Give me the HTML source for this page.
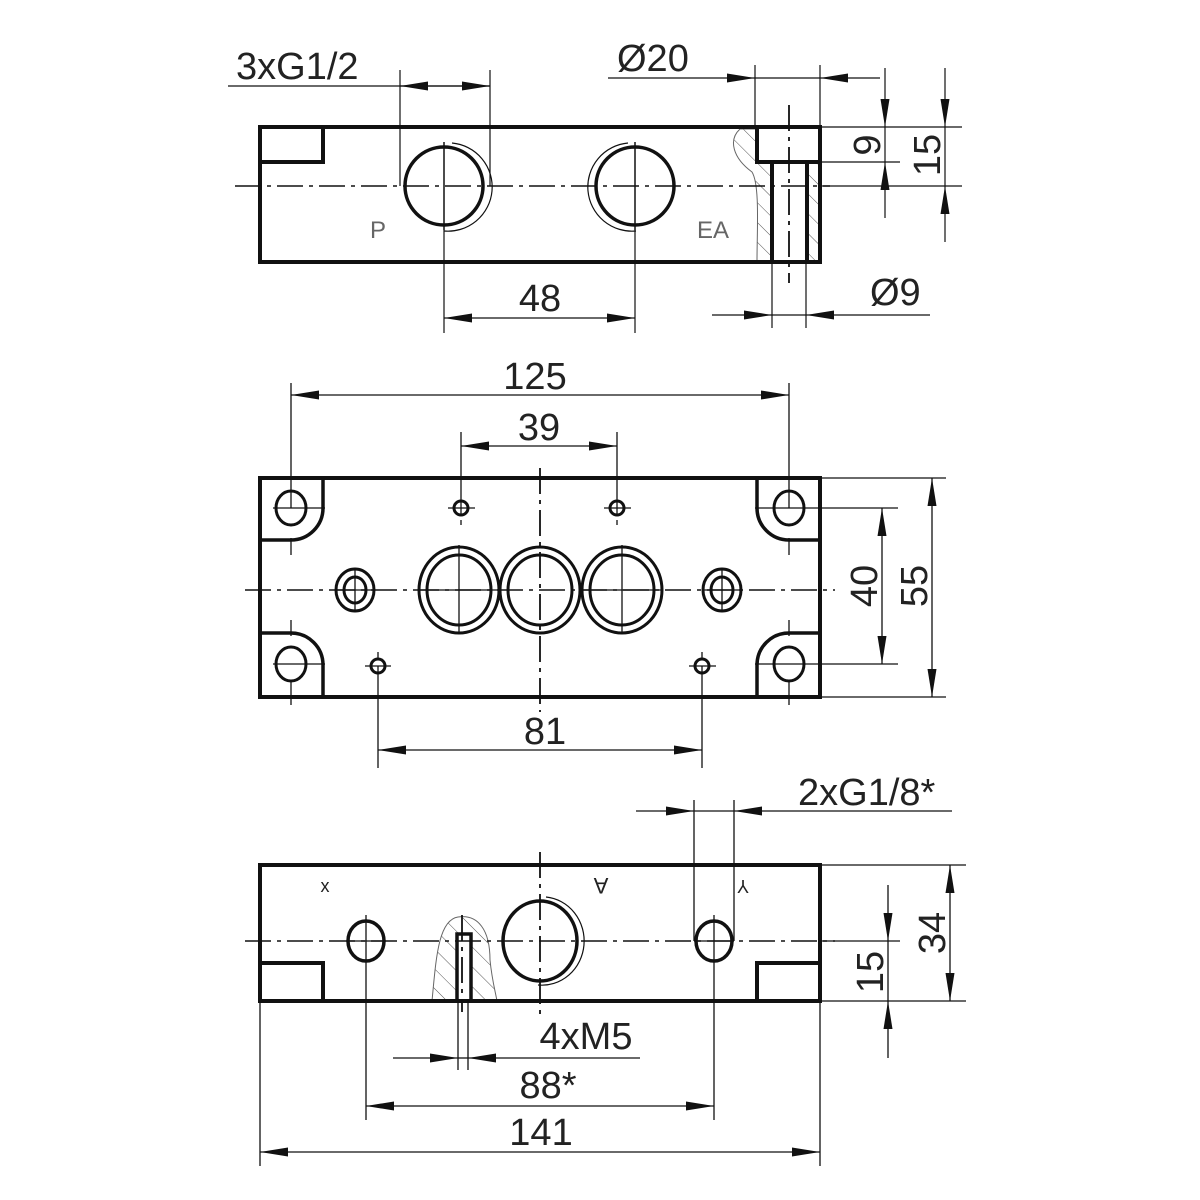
<!DOCTYPE html>
<html><head><meta charset="utf-8"><style>
html,body{margin:0;padding:0;background:#fff}
svg{display:block}
text{font-family:"Liberation Sans",sans-serif;fill:#222}
</style></head><body>
<svg width="1200" height="1200" viewBox="0 0 1200 1200" xmlns="http://www.w3.org/2000/svg">
<defs>
<marker id="a" markerUnits="userSpaceOnUse" markerWidth="28" markerHeight="9" refX="28" refY="4.5" orient="auto">
<path d="M0,0 L28,4.5 L0,9 z" fill="#111"/></marker>
<pattern id="h" width="14" height="14" patternUnits="userSpaceOnUse" patternTransform="rotate(-45)">
<line x1="0" y1="0" x2="0" y2="14" stroke="#555" stroke-width="1"/></pattern>
</defs>

<!-- ===== TOP VIEW ===== -->
<g fill="none" stroke="#111">
<path d="M740,129 C728,140 733,158 752,172 C760,185 757,230 757,261 L772,261 L772,162 L757,162 L757,129 Z" fill="url(#h)" stroke="#666" stroke-width="1"/>
<rect x="807" y="162" width="13" height="99" fill="url(#h)" stroke="none"/>
<rect x="260" y="127" width="560" height="135" stroke-width="4"/>
<path d="M260,162 H323 V127" stroke-width="4"/>
<path d="M820,162 H757 V127" stroke-width="4"/>
<path d="M772,162 V262 M807,162 V262" stroke-width="4"/>
<circle cx="444" cy="186" r="39" stroke-width="3.5"/>
<circle cx="635" cy="186" r="39" stroke-width="3.5"/>
<path d="M452,143 A44,44 0 0,1 444,231" stroke-width="1.2"/>
<path d="M628,143 A44,44 0 0,0 636,231" stroke-width="1.2"/>
<line x1="235" y1="186" x2="830" y2="186" stroke-width="1.5" stroke-dasharray="26,6,4,6"/>
<line x1="444" y1="142" x2="444" y2="230" stroke-width="1.5"/>
<line x1="635" y1="142" x2="635" y2="230" stroke-width="1.5"/>
<line x1="789" y1="105" x2="789" y2="283" stroke-width="1.8" stroke-dasharray="26,6,4,6"/>
<g stroke-width="1.2">
<line x1="400" y1="70" x2="400" y2="186"/><line x1="490" y1="70" x2="490" y2="186"/>
<line x1="228" y1="86" x2="490" y2="86"/>
<line x1="445" y1="86" x2="400" y2="86" marker-end="url(#a)"/>
<line x1="445" y1="86" x2="490" y2="86" marker-end="url(#a)"/>
<line x1="755" y1="65" x2="755" y2="127"/><line x1="820" y1="65" x2="820" y2="127"/>
<line x1="608" y1="78" x2="755" y2="78" marker-end="url(#a)"/>
<line x1="880" y1="78" x2="820" y2="78" marker-end="url(#a)"/>
<line x1="755" y1="78" x2="820" y2="78"/>
<line x1="820" y1="127" x2="962" y2="127"/><line x1="808" y1="162" x2="900" y2="162"/><line x1="820" y1="186" x2="962" y2="186"/>
<line x1="885" y1="68" x2="885" y2="127" marker-end="url(#a)"/>
<line x1="885" y1="218" x2="885" y2="162" marker-end="url(#a)"/>
<line x1="885" y1="127" x2="885" y2="162"/>
<line x1="945" y1="68" x2="945" y2="127" marker-end="url(#a)"/>
<line x1="945" y1="242" x2="945" y2="186" marker-end="url(#a)"/>
<line x1="945" y1="127" x2="945" y2="186"/>
<line x1="444" y1="230" x2="444" y2="333"/><line x1="635" y1="230" x2="635" y2="333"/>
<line x1="540" y1="318" x2="444" y2="318" marker-end="url(#a)"/>
<line x1="540" y1="318" x2="635" y2="318" marker-end="url(#a)"/>
<line x1="772" y1="262" x2="772" y2="328"/><line x1="806" y1="262" x2="806" y2="328"/>
<line x1="712" y1="315" x2="772" y2="315" marker-end="url(#a)"/>
<line x1="930" y1="315" x2="806" y2="315" marker-end="url(#a)"/>
<line x1="772" y1="315" x2="806" y2="315"/>
</g>
</g>
<text x="236" y="79" font-size="38">3xG1/2</text>
<text x="617" y="71" font-size="38">Ø20</text>
<text x="540" y="311" font-size="38" text-anchor="middle">48</text>
<text x="870" y="305" font-size="38">Ø9</text>
<text font-size="38" text-anchor="middle" transform="translate(880,145) rotate(-90)">9</text>
<text font-size="38" text-anchor="middle" transform="translate(940,155) rotate(-90)">15</text>
<text x="370" y="238" font-size="24" style="fill:#666">P</text>
<text x="697" y="238" font-size="24" style="fill:#666">EA</text>

<!-- ===== MIDDLE VIEW ===== -->
<g fill="none" stroke="#111">
<rect x="260" y="478" width="560" height="219" stroke-width="4"/>
<path d="M260,540 H291 A32,32 0 0,0 323,508 V478" stroke-width="3.5"/>
<path d="M820,540 H789 A32,32 0 0,1 757,508 V478" stroke-width="3.5"/>
<path d="M260,633 H291 A32,32 0 0,1 323,665 V697" stroke-width="3.5"/>
<path d="M820,633 H789 A32,32 0 0,0 757,665 V697" stroke-width="3.5"/>
<g stroke-width="3">
<ellipse cx="291" cy="508" rx="15" ry="17"/><ellipse cx="789" cy="508" rx="15" ry="17"/>
<ellipse cx="291" cy="664" rx="15" ry="17"/><ellipse cx="789" cy="664" rx="15" ry="17"/>
<circle cx="461" cy="508" r="7"/><circle cx="617" cy="508" r="7"/>
<circle cx="378" cy="666" r="7"/><circle cx="702" cy="666" r="7"/>
<ellipse cx="355" cy="590" rx="19" ry="21"/><ellipse cx="355" cy="590" rx="11" ry="13"/>
<ellipse cx="722" cy="590" rx="19" ry="21"/><ellipse cx="722" cy="590" rx="11" ry="13"/>
<ellipse cx="459" cy="590" rx="40" ry="43"/><ellipse cx="459" cy="590" rx="32" ry="35"/>
<ellipse cx="540" cy="590" rx="40" ry="43"/><ellipse cx="540" cy="590" rx="32" ry="35"/>
<ellipse cx="622" cy="590" rx="40" ry="43"/><ellipse cx="622" cy="590" rx="32" ry="35"/>
</g>
<line x1="245" y1="590" x2="835" y2="590" stroke-width="1.5" stroke-dasharray="26,6,4,6"/>
<line x1="540" y1="468" x2="540" y2="712" stroke-width="1.8" stroke-dasharray="26,6,4,6"/>
<g stroke-width="1.3">
<path d="M273,508 H325 M755,508 H808 M273,664 H325 M755,664 H808"/>
<path d="M291,538 V555 M789,538 V555 M291,620 V636 M789,620 V636 M291,680 V705 M789,680 V705"/>
<path d="M448,508 H475 M461,520 V525 M604,508 H631 M617,520 V525"/>
<path d="M365,666 H391 M378,652 V658 M689,666 H716 M702,652 V658"/>
<path d="M335,590 H375 M355,568 V612 M702,590 H742 M722,568 V612"/>
<path d="M459,545 V634 M622,545 V634 M420,590 H500 M583,590 H662"/>
<line x1="291" y1="383" x2="291" y2="508"/><line x1="789" y1="383" x2="789" y2="508"/>
<line x1="540" y1="395" x2="291" y2="395" marker-end="url(#a)"/>
<line x1="540" y1="395" x2="789" y2="395" marker-end="url(#a)"/>
<line x1="461" y1="432" x2="461" y2="516"/><line x1="617" y1="432" x2="617" y2="516"/>
<line x1="539" y1="446" x2="461" y2="446" marker-end="url(#a)"/>
<line x1="539" y1="446" x2="617" y2="446" marker-end="url(#a)"/>
<line x1="378" y1="666" x2="378" y2="768"/><line x1="702" y1="666" x2="702" y2="768"/>
<line x1="540" y1="750" x2="378" y2="750" marker-end="url(#a)"/>
<line x1="540" y1="750" x2="702" y2="750" marker-end="url(#a)"/>
<line x1="808" y1="508" x2="898" y2="508"/><line x1="808" y1="664" x2="898" y2="664"/>
<line x1="820" y1="478" x2="946" y2="478"/><line x1="820" y1="697" x2="946" y2="697"/>
<line x1="882" y1="586" x2="882" y2="508" marker-end="url(#a)"/>
<line x1="882" y1="586" x2="882" y2="664" marker-end="url(#a)"/>
<line x1="932" y1="587" x2="932" y2="478" marker-end="url(#a)"/>
<line x1="932" y1="587" x2="932" y2="697" marker-end="url(#a)"/>
</g>
</g>
<text x="535" y="389" font-size="38" text-anchor="middle">125</text>
<text x="539" y="440" font-size="38" text-anchor="middle">39</text>
<text x="545" y="744" font-size="38" text-anchor="middle">81</text>
<text font-size="38" text-anchor="middle" transform="translate(877,586) rotate(-90)">40</text>
<text font-size="38" text-anchor="middle" transform="translate(927,586) rotate(-90)">55</text>

<!-- ===== BOTTOM VIEW ===== -->
<g fill="none" stroke="#111">
<path d="M432,1001 C436,960 438,920 458,917 C478,914 490,930 490,960 C492,980 495,990 497,1001 Z" fill="url(#h)" stroke="#666" stroke-width="1"/>
<rect x="457" y="934" width="14" height="67" fill="#fff" stroke-width="3.5"/>
<rect x="260" y="865" width="560" height="136" stroke-width="4"/>
<path d="M260,963 H323 V1001" stroke-width="4"/>
<path d="M820,963 H757 V1001" stroke-width="4"/>
<ellipse cx="366" cy="941" rx="18" ry="20" stroke-width="3.5"/>
<ellipse cx="714" cy="941" rx="18" ry="20" stroke-width="3.5"/>
<ellipse cx="540" cy="941" rx="37" ry="40" stroke-width="3.5"/>
<path d="M546,897 A42,44 0 0,1 538,985" stroke-width="1.2"/>
<line x1="245" y1="941" x2="835" y2="941" stroke-width="1.5" stroke-dasharray="26,6,4,6"/>
<line x1="540" y1="852" x2="540" y2="1016" stroke-width="1.8" stroke-dasharray="26,6,4,6"/>
<line x1="462" y1="915" x2="462" y2="1012" stroke-width="1.8" stroke-dasharray="26,6,4,6"/>
<g stroke-width="1.3">
<path d="M366,915 V1120 M714,915 V1120 M346,941 H386 M694,941 H734"/>
<line x1="694" y1="800" x2="694" y2="941"/><line x1="734" y1="800" x2="734" y2="941"/>
<line x1="636" y1="811" x2="694" y2="811" marker-end="url(#a)"/>
<line x1="952" y1="811" x2="734" y2="811" marker-end="url(#a)"/>
<line x1="694" y1="811" x2="734" y2="811"/>
<line x1="820" y1="865" x2="966" y2="865"/><line x1="820" y1="1001" x2="966" y2="1001"/>
<line x1="820" y1="941" x2="900" y2="941"/>
<line x1="950" y1="933" x2="950" y2="865" marker-end="url(#a)"/>
<line x1="950" y1="933" x2="950" y2="1001" marker-end="url(#a)"/>
<line x1="888" y1="885" x2="888" y2="941" marker-end="url(#a)"/>
<line x1="888" y1="1058" x2="888" y2="1001" marker-end="url(#a)"/>
<line x1="888" y1="941" x2="888" y2="1001"/>
<line x1="458" y1="1001" x2="458" y2="1070"/><line x1="468" y1="1001" x2="468" y2="1070"/>
<line x1="393" y1="1058" x2="458" y2="1058" marker-end="url(#a)"/>
<line x1="640" y1="1058" x2="468" y2="1058" marker-end="url(#a)"/>
<line x1="458" y1="1058" x2="468" y2="1058"/>
<line x1="540" y1="1106" x2="366" y2="1106" marker-end="url(#a)"/>
<line x1="540" y1="1106" x2="714" y2="1106" marker-end="url(#a)"/>
<line x1="260" y1="1001" x2="260" y2="1166"/><line x1="820" y1="1001" x2="820" y2="1166"/>
<line x1="540" y1="1152" x2="260" y2="1152" marker-end="url(#a)"/>
<line x1="540" y1="1152" x2="820" y2="1152" marker-end="url(#a)"/>
</g>
</g>
<text x="798" y="805" font-size="38">2xG1/8*</text>
<text x="586" y="1049" font-size="38" text-anchor="middle">4xM5</text>
<text x="548" y="1098" font-size="38" text-anchor="middle">88*</text>
<text x="541" y="1145" font-size="38" text-anchor="middle">141</text>
<text font-size="38" text-anchor="middle" transform="translate(945,933) rotate(-90)">34</text>
<text font-size="38" text-anchor="middle" transform="translate(883,972) rotate(-90)">15</text>
<text x="325" y="892" font-size="18" text-anchor="middle">x</text>
<text font-size="22" text-anchor="middle" transform="translate(601,878) rotate(180)">A</text>
<text font-size="18" text-anchor="middle" transform="translate(743,880) rotate(180)">Y</text>
</svg>
</body></html>
